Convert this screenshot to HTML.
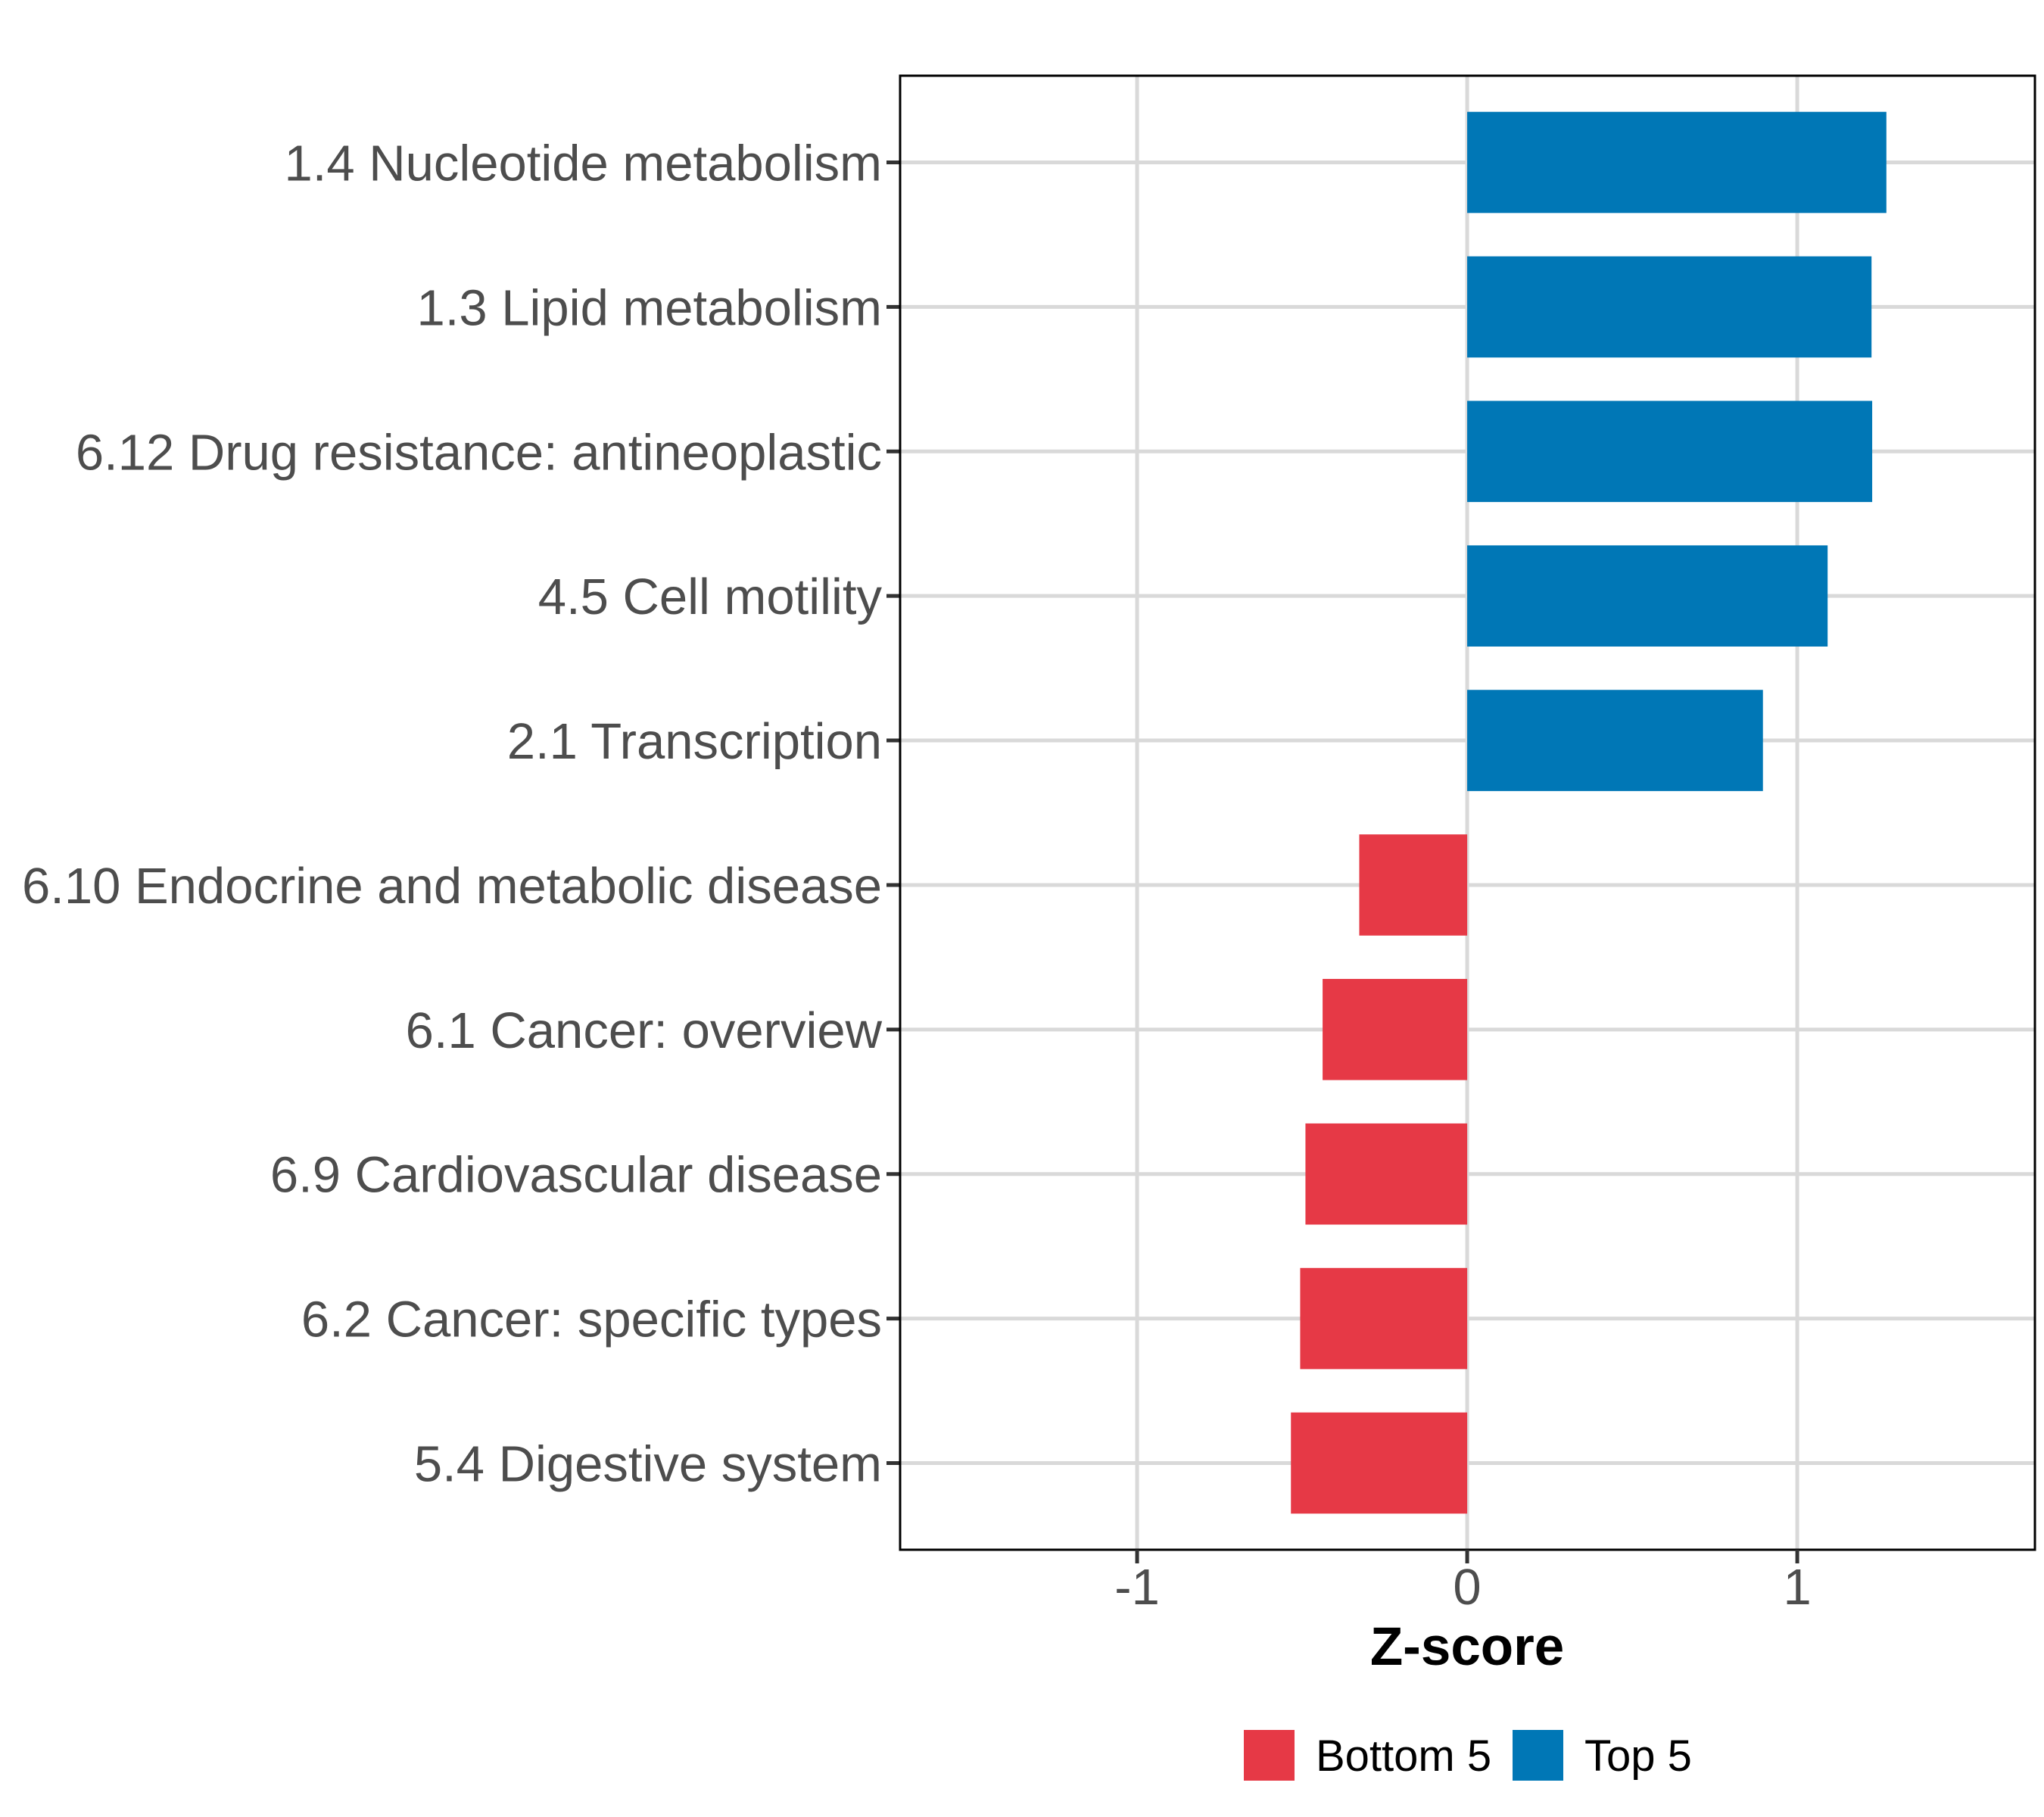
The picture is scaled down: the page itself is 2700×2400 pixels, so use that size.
<!DOCTYPE html>
<html><head><meta charset="utf-8"><style>html,body{margin:0;padding:0;background:#fff}svg{display:block}text{font-family:"Liberation Sans",Arial,sans-serif}</style></head>
<body>
<svg id="chart" width="2700" height="2400" viewBox="0 0 2700 2400" xmlns="http://www.w3.org/2000/svg">
<rect width="2700" height="2400" fill="#fff"/>
<g id="grid"></g><g id="bars"></g><g id="axes"></g>
</svg>
<script>
const categories = ["1.4 Nucleotide metabolism","1.3 Lipid metabolism","6.12 Drug resistance: antineoplastic","4.5 Cell motility","2.1 Transcription","6.10 Endocrine and metabolic disease","6.1 Cancer: overview","6.9 Cardiovascular disease","6.2 Cancer: specific types","5.4 Digestive system"];
const values = [1.27, 1.225, 1.227, 1.092, 0.896, -0.327, -0.438, -0.49, -0.506, -0.534];
const groups = ["Top 5","Top 5","Top 5","Top 5","Top 5","Bottom 5","Bottom 5","Bottom 5","Bottom 5","Bottom 5"];
const xTicks = [-1, 0, 1];
const xTickLabels = ["-1","0","1"];
const legendLabels = ["Bottom 5","Top 5"];

const NS="http://www.w3.org/2000/svg";
const colors={"Bottom 5":"#E63946","Top 5":"#0077B6"};
const L=1189,R=2688,T=100,B=2047;
const xmin=-1.718,xmax=1.720;
const x=v=>L+(v-xmin)/(xmax-xmin)*(R-L);
const step=(B-T)/(categories.length-1+1.2);
const y=i=>T+step*(0.6+i);
function mk(tag,attrs,parent){const e=document.createElementNS(NS,tag);for(const k in attrs)e.setAttribute(k,attrs[k]);parent.appendChild(e);return e;}
const grid=document.getElementById('grid'),bars=document.getElementById('bars'),axes=document.getElementById('axes');
xTicks.forEach((t,i)=>{
 const g=mk('line',{x1:x(t),x2:x(t),y1:T,y2:B,stroke:'#D9D9D9','stroke-width':5},grid);
 
 
});
categories.forEach((c,i)=>{
 const g=mk('line',{x1:L,x2:R,y1:y(i),y2:y(i),stroke:'#D9D9D9','stroke-width':5},grid);
 
 
});
const bh=step*0.7;
categories.forEach((c,i)=>{
 const v=values[i];
 const r=mk('rect',{x:Math.min(x(0),x(v)),y:y(i)-bh/2,width:Math.abs(x(v)-x(0)),height:bh,fill:colors[groups[i]]},bars);
 
 
 const tk=mk('line',{x1:L-18,x2:L,y1:y(i),y2:y(i),stroke:'#333','stroke-width':5},axes);
 
 
 const t=mk('text',{x:L-24,y:y(i)+24,'text-anchor':'end','font-size':67,fill:'#4D4D4D'},axes);
 t.textContent=c;
 
 
});
const border=mk('rect',{x:L,y:T,width:R-L,height:B-T,fill:'none',stroke:'#000','stroke-width':3},axes);


xTicks.forEach((tv,i)=>{
 const tk=mk('line',{x1:x(tv),x2:x(tv),y1:B,y2:B+18,stroke:'#333','stroke-width':5},axes);
 
 
 const t=mk('text',{x:x(tv),y:2119,'text-anchor':'middle','font-size':67,fill:'#4D4D4D'},axes);
 t.textContent=xTickLabels[i];
 
 
});
const xt=mk('text',{x:x(0),y:2199,'text-anchor':'middle','font-size':71,'font-weight':'bold',fill:'#000'},axes);
xt.textContent='Z-score';


const lx=[1643,1998];
legendLabels.forEach((lab,i)=>{
 const k=mk('rect',{x:lx[i],y:2285,width:67,height:67,fill:colors[lab]},axes);
 
 
 const t=mk('text',{x:lx[i]+95,y:2339,'font-size':58,fill:'#000'},axes);
 t.textContent=lab;
 
 
});
</script>
</body></html>
